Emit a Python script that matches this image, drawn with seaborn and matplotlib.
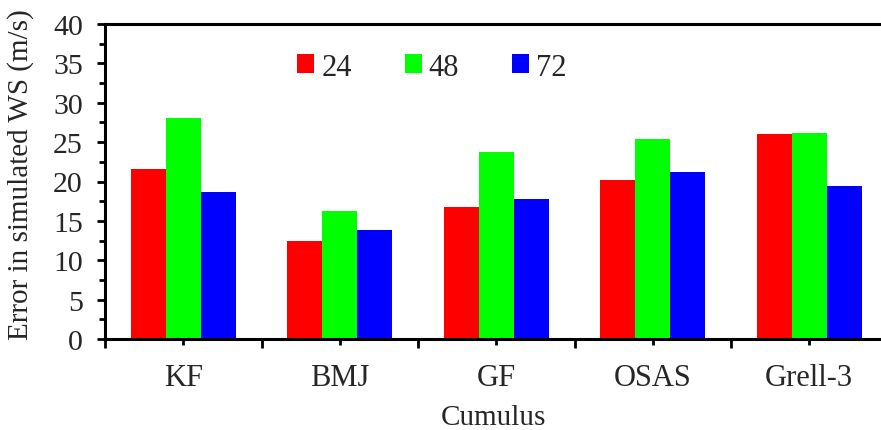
import matplotlib
matplotlib.use("Agg")
import matplotlib.pyplot as plt
import seaborn as sns
import pandas as pd
from matplotlib.ticker import MultipleLocator, FixedLocator

categories = ["KF", "BMJ", "GF", "OSAS", "Grell-3"]
hours = ["24", "48", "72"]
vals_24 = [21.6, 12.4, 16.7, 20.2, 26.0]
vals_48 = [28.1, 16.3, 23.7, 25.4, 26.1]
vals_72 = [18.7, 13.8, 17.8, 21.2, 19.4]
colors = ["#FF0000", "#00FF00", "#0000FF"]

rows = []
for h, vals in zip(hours, [vals_24, vals_48, vals_72]):
    for c, v in zip(categories, vals):
        rows.append({"Cumulus": c, "Hours": h, "Error": v})
df = pd.DataFrame(rows)

sns.set_style("white")
plt.rcParams["font.family"] = ["Liberation Serif", "DejaVu Serif"]

fig = plt.figure(figsize=(8.81, 4.31), dpi=100)
ax = fig.add_axes([105/881, 1-340/431, 1-105/881, (340-25)/431])

sns.barplot(data=df, x="Cumulus", y="Error", hue="Hours", order=categories,
            hue_order=hours, palette=colors, width=0.67, saturation=1,
            edgecolor="none", linewidth=0, ax=ax)

ax.set_ylim(0, 40)
ax.set_xlim(-0.5, -0.5 + 776/156.5)
ax.yaxis.set_major_locator(MultipleLocator(5))
ax.yaxis.set_minor_locator(MultipleLocator(2.5))
ax.xaxis.set_minor_locator(FixedLocator([-0.5, 0.5, 1.5, 2.5, 3.5, 4.5]))

for side in ["left", "bottom", "top"]:
    ax.spines[side].set_visible(True)
    ax.spines[side].set_linewidth(2.2)
    ax.spines[side].set_color("black")
ax.spines["right"].set_visible(False)

ax.tick_params(axis="y", which="major", direction="out", length=6, width=2, color="black",
               labelsize=21.5, pad=10, left=True)
ax.tick_params(axis="y", which="minor", direction="out", length=4, width=2, color="black", left=True)
ax.tick_params(axis="x", which="major", direction="out", length=4.5, width=2, color="black",
               labelsize=22, pad=13, bottom=True)
ax.tick_params(axis="x", which="minor", direction="out", length=6.5, width=2, color="black", bottom=True)

ax.set_xlabel("Cumulus", fontsize=21)
ax.set_ylabel("Error in simulated WS (m/s)", fontsize=21)
ax.xaxis.set_label_coords(0.5, -0.205)
ax.yaxis.set_label_coords(-0.0915, 0.524)

ax.legend(loc="center", bbox_to_anchor=(432/881, 1-68/431), bbox_transform=fig.transFigure,
          ncol=3, frameon=False, fontsize=22, handlelength=0.56, handleheight=0.56,
          handletextpad=0.23, columnspacing=1.73, borderpad=0)

fig.savefig("out.png", dpi=100)
